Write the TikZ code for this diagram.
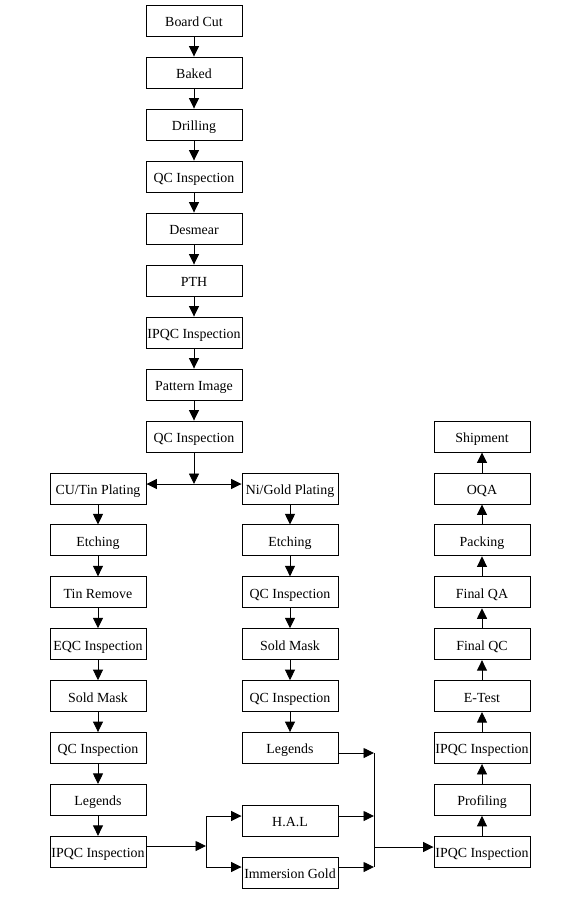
\documentclass[tikz,border=0pt]{standalone}
\usepackage{fontspec}
\setmainfont{Liberation Serif}
\usetikzlibrary{arrows.meta}
\tikzset{
  box/.style={draw=black, line width=0.9pt, minimum width=96pt, minimum height=31pt, inner sep=0pt, text height=11.8pt, text depth=0pt, font=\fontsize{13.9}{16}\selectfont},
  arr/.style={line width=0.9pt, -{Triangle[length=10.5pt,width=10pt]}},
  ln/.style={line width=0.9pt}
}
\begin{document}
\begin{tikzpicture}[x=1pt,y=-1pt]
\useasboundingbox (0,0) rectangle (580,900);
% center column
\node[box] (c1) at (194,20.5) {Board Cut};
\node[box] (c2) at (194,72.5) {Baked};
\node[box] (c3) at (194,124.5) {Drilling};
\node[box] (c4) at (194,176.5) {QC Inspection};
\node[box] (c5) at (194,228.5) {Desmear};
\node[box] (c6) at (194,280.5) {PTH};
\node[box] (c7) at (194,332.5) {IPQC Inspection};
\node[box] (c8) at (194,384.5) {Pattern Image};
\node[box] (c9) at (194,436.5) {QC Inspection};
% left column
\node[box] (l1) at (98,488.5) {CU/Tin Plating};
\node[box] (l2) at (98,540.4) {Etching};
\node[box] (l3) at (98,592.3) {Tin Remove};
\node[box] (l4) at (98,644.2) {EQC Inspection};
\node[box] (l5) at (98,696.1) {Sold Mask};
\node[box] (l6) at (98,748) {QC Inspection};
\node[box] (l7) at (98,799.9) {Legends};
\node[box] (l8) at (98,851.8) {IPQC Inspection};
% middle column
\node[box] (m1) at (290,488.5) {Ni/Gold Plating};
\node[box] (m2) at (290,540.4) {Etching};
\node[box] (m3) at (290,592.3) {QC Inspection};
\node[box] (m4) at (290,644.2) {Sold Mask};
\node[box] (m5) at (290,696.1) {QC Inspection};
\node[box] (m6) at (290,748) {Legends};
\node[box] (hal) at (290,821) {H.A.L};
\node[box] (imm) at (290,872.7) {Immersion Gold};
% right column
\node[box] (r1) at (482,436.5) {Shipment};
\node[box] (r2) at (482,488.5) {OQA};
\node[box] (r3) at (482,540.4) {Packing};
\node[box] (r4) at (482,592.3) {Final QA};
\node[box] (r5) at (482,644.2) {Final QC};
\node[box] (r6) at (482,696.1) {E-Test};
\node[box] (r7) at (482,748) {IPQC Inspection};
\node[box] (r8) at (482,799.9) {Profiling};
\node[box] (r9) at (482,851.8) {IPQC Inspection};
% center arrows
\foreach \a/\b in {c1/c2,c2/c3,c3/c4,c4/c5,c5/c6,c6/c7,c7/c8,c8/c9}
  \draw[arr] (\a.south) -- (\b.north);
% split
\coordinate (split) at (194,484);
\draw[arr] (c9.south) -- (split);
\draw[arr] (split) -- (split -| l1.east);
\draw[arr] (split) -- (split -| m1.west);
% left arrows
\foreach \a/\b in {l1/l2,l2/l3,l3/l4,l4/l5,l5/l6,l6/l7,l7/l8}
  \draw[arr] (\a.south) -- (\b.north);
% middle arrows
\foreach \a/\b in {m1/m2,m2/m3,m3/m4,m4/m5,m5/m6}
  \draw[arr] (\a.south) -- (\b.north);
% right arrows (upward)
\foreach \a/\b in {r9/r8,r8/r7,r7/r6,r6/r5,r5/r4,r4/r3,r3/r2,r2/r1}
  \draw[arr] (\a.north) -- (\b.south);
% left join
\coordinate (jl) at (206,846);
\coordinate (jlt) at (206,816);
\coordinate (jlb) at (206,867);
\draw[arr] (jl -| l8.east) -- (jl);
\draw[ln] (jlt) -- (jlb);
\draw[arr] (jlt) -- (jlt -| hal.west);
\draw[arr] (jlb) -- (jlb -| imm.west);
% right merge
\coordinate (mt) at (374,753);
\coordinate (mh) at (374,816);
\coordinate (mb) at (374,867);
\coordinate (mm) at (374,847);
\draw[arr] (mt -| m6.east) -- (mt);
\draw[arr] (mh -| hal.east) -- (mh);
\draw[arr] (mb -| imm.east) -- (mb);
\draw[ln] (mt) -- (mb);
\draw[arr] (mm) -- (mm -| r9.west);
\end{tikzpicture}
\end{document}
